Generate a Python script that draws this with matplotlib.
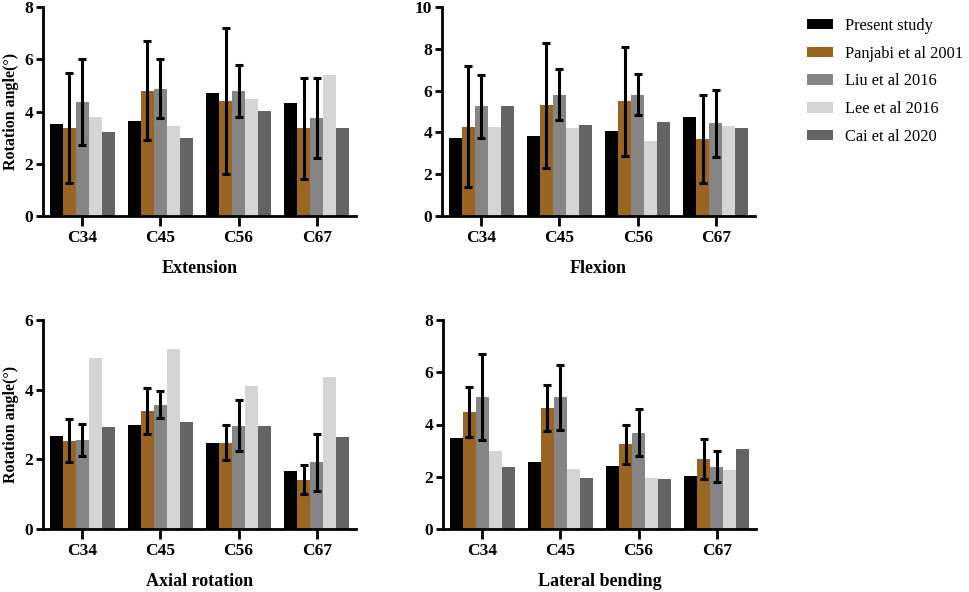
import numpy as np
import matplotlib
matplotlib.use("Agg")
import matplotlib.pyplot as plt
from matplotlib.patches import Patch

plt.rcParams['font.family'] = ['Liberation Serif', 'DejaVu Serif']

levels = ["C34", "C45", "C56", "C67"]
studies = ["Present study", "Panjabi et al 2001", "Liu et al 2016", "Lee et al 2016", "Cai et al 2020"]
colors = ["#000000", "#9a6422", "#858585", "#d5d5d5", "#646464"]

# values per study, per level (C34, C45, C56, C67)
ext_vals = [
    [3.52, 3.63, 4.69, 4.33],
    [3.38, 4.79, 4.39, 3.36],
    [4.36, 4.87, 4.79, 3.76],
    [3.78, 3.45, 4.47, 5.41],
    [3.21, 2.98, 4.01, 3.36],
]
ext_err_panjabi = [2.1, 1.9, 2.8, 1.93]
ext_err_liu = [1.65, 1.13, 1.0, 1.53]

flex_vals = [
    [3.74, 3.85, 4.08, 4.76],
    [4.28, 5.29, 5.48, 3.68],
    [5.25, 5.81, 5.81, 4.43],
    [4.25, 4.19, 3.58, 4.30],
    [5.25, 4.36, 4.49, 4.20],
]
flex_err_panjabi = [2.9, 3.0, 2.6, 2.1]
flex_err_liu = [1.5, 1.2, 1.0, 1.6]

axial_vals = [
    [2.67, 3.00, 2.48, 1.66],
    [2.53, 3.40, 2.48, 1.42],
    [2.56, 3.57, 2.97, 1.91],
    [4.92, 5.17, 4.11, 4.35],
    [2.92, 3.08, 2.96, 2.63],
]
axial_err_panjabi = [0.62, 0.66, 0.51, 0.42]
axial_err_liu = [0.45, 0.38, 0.74, 0.83]

lat_vals = [
    [3.49, 2.56, 2.43, 2.04],
    [4.48, 4.64, 3.24, 2.68],
    [5.04, 5.04, 3.69, 2.39],
    [2.99, 2.29, 1.97, 2.25],
    [2.36, 1.97, 1.90, 3.07],
]
lat_err_panjabi = [0.96, 0.87, 0.76, 0.76]
lat_err_liu = [1.65, 1.25, 0.9, 0.6]

W, H = 969, 592
fig = plt.figure(figsize=(W / 100, H / 100), dpi=100)


def px_axes(left, top, right, bottom):
    return fig.add_axes([left / W, 1 - bottom / H, (right - left) / W, (bottom - top) / H])


def panel(ax, vals, err_p, err_l, ymax, step, title, ylabel):
    x = np.arange(len(levels))
    w = 1 / 6
    for i, v in enumerate(vals):
        ax.bar(x + (i - 2) * w, v, width=w, color=colors[i], zorder=2)
    for i, e in ((1, err_p), (2, err_l)):
        ax.errorbar(x + (i - 2) * w, vals[i], yerr=e, fmt='none', ecolor='black',
                    elinewidth=2.2, capsize=2.8, capthick=2.2, zorder=3)
    ax.set_xlim(-0.5, 3.5)
    ax.set_ylim(0, ymax)
    ax.set_yticks(np.arange(0, ymax + 0.01, step))
    ax.set_xticks(x)
    ax.set_xticklabels(levels)
    for s in ['top', 'right']:
        ax.spines[s].set_visible(False)
    for s in ['left', 'bottom']:
        ax.spines[s].set_linewidth(2.0)
    ax.tick_params(axis='x', length=7, width=2.0, labelsize=12.5, pad=3)
    ax.tick_params(axis='y', length=5, width=2.0, labelsize=12.5, pad=2)
    for t in ax.get_xticklabels() + ax.get_yticklabels():
        t.set_fontweight('bold')
    ax.set_xlabel(title, fontsize=13, fontweight='bold', labelpad=10)
    if ylabel:
        ax.set_ylabel("Rotation angle(°)", fontsize=11.5, fontweight='bold', labelpad=4)


ax1 = px_axes(43, 7, 356, 216)
panel(ax1, ext_vals, ext_err_panjabi, ext_err_liu, 8, 2, "Extension", True)
ax2 = px_axes(442, 7, 755, 216)
panel(ax2, flex_vals, flex_err_panjabi, flex_err_liu, 10, 2, "Flexion", False)
ax3 = px_axes(43, 320, 356, 529)
panel(ax3, axial_vals, axial_err_panjabi, axial_err_liu, 6, 2, "Axial rotation", True)
ax4 = px_axes(443, 320, 756, 529)
panel(ax4, lat_vals, lat_err_panjabi, lat_err_liu, 8, 2, "Lateral bending", False)

handles = [Patch(facecolor=c, edgecolor='none') for c in colors]
fig.legend(handles, studies, loc='upper left', bbox_to_anchor=(792 / W, 1 - 3 / H),
           frameon=False, fontsize=11.8, handlelength=1.6, handleheight=0.6,
           handletextpad=0.75, labelspacing=0.72)

fig.savefig("out.png", dpi=100)
